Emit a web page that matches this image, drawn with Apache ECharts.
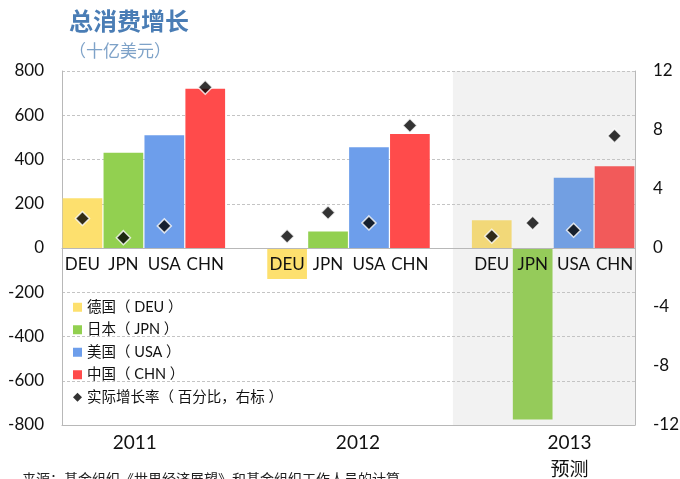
<!DOCTYPE html>
<html>
<head>
<meta charset="utf-8">
<script src="https://cdn.jsdelivr.net/npm/echarts@6/dist/echarts.min.js"></script>
<style>
html,body{margin:0;padding:0;background:#fff;}
#c{width:680px;height:479px;}
</style>
</head>
<body>
<div id="c"></div>
<script>
// ---- data ----
var years = ['2011', '2012', '2013'];
var countries = ['DEU', 'JPN', 'USA', 'CHN'];
var seriesNames = ['德国（ DEU ）', '日本（ JPN ）', '美国（ USA ）', '中国（ CHN ）'];
var growthName = '实际增长率（ 百分比，右标 ）';
// total consumption growth, billions USD, per year
var deuValues = [225, -140, 125];
var jpnValues = [430, 75, -775];
var usaValues = [510, 455, 317];
var chnValues = [720, 515, 370];
// real growth rate, percent (right axis)
var deuGrowth = [2.0, 0.8, 0.8];
var jpnGrowth = [0.7, 2.4, 1.7];
var usaGrowth = [1.5, 1.7, 1.2];
var chnGrowth = [10.9, 8.3, 7.6];
var leftTicks = {min: -800, max: 800, interval: 200};
var rightTicks = {min: -12, max: 12, interval: 4};
var yearLabels = ['2011', '2012', '2013\n预测'];
var source = '来源：基金组织《世界经济展望》和基金组织工作人员的计算。';

// ---- layout / styles ----
var W = 680, H = 479;
var gridBox = {left: 62, right: 45, top: 71, bottom: 54};
var yearLabelSlots = [1.78, 7.23, 12.4];
var forecastStartSlot = 9.55;
var colors = ['#fde06e', '#92d050', '#6d9eeb', '#ff4b4b'];
var forecastColors = ['#f2d878', '#95cb5a', '#729fe2', '#f25a5a'];
var font = 'Lato, "Noto Sans CJK SC", sans-serif';
var cjk = '"Noto Sans CJK SC", sans-serif';

var values = [deuValues, jpnValues, usaValues, chnValues];
var growth = [deuGrowth, jpnGrowth, usaGrowth, chnGrowth];

// build slot categories: 4 countries per year, blank slot between years
var cats = [];
var slotIndex = [];
years.forEach(function (y, yi) {
  slotIndex.push([]);
  countries.forEach(function (c, ci) {
    slotIndex[yi].push(cats.length);
    cats.push(c);
  });
  if (yi < years.length - 1) cats.push('');
});

var series = [];
countries.forEach(function (c, ci) {
  var d = cats.map(function () { return null; });
  years.forEach(function (y, yi) {
    var item = {value: values[ci][yi]};
    if (yi === 2) item.itemStyle = {color: forecastColors[ci]};
    d[slotIndex[yi][ci]] = item;
  });
  series.push({
    name: seriesNames[ci],
    type: 'bar',
    xAxisIndex: 0,
    yAxisIndex: 0,
    barGap: '-100%',
    barCategoryGap: '3%',
    itemStyle: {color: colors[ci]},
    data: d,
    z: 2
  });
});

var gData = cats.map(function () { return null; });
countries.forEach(function (c, ci) {
  years.forEach(function (y, yi) {
    gData[slotIndex[yi][ci]] = growth[ci][yi];
  });
});
series.push({
  name: growthName,
  type: 'scatter',
  xAxisIndex: 0,
  yAxisIndex: 1,
  symbol: 'diamond',
  symbolSize: 14,
  itemStyle: {color: '#000', borderColor: '#fff', borderWidth: 1.5},
  data: gData,
  z: 5
});
// forecast shading
series.push({
  type: 'scatter',
  xAxisIndex: 1,
  yAxisIndex: 0,
  data: [],
  z: -2,
  silent: true,
  markArea: {
    silent: true,
    z: -2,
    itemStyle: {color: '#f2f2f2'},
    data: [[{xAxis: forecastStartSlot}, {xAxis: cats.length}]]
  }
});

// place the category axis on the zero line of the left axis
var gridHeight = H - gridBox.top - gridBox.bottom;
var zeroOffset = -gridHeight * (0 - leftTicks.min) / (leftTicks.max - leftTicks.min);

var chart = echarts.init(document.getElementById('c'));
chart.setOption({
  animation: false,
  backgroundColor: '#fff',
  textStyle: {fontFamily: font},
  title: {
    text: '总消费增长',
    subtext: '（十亿美元）',
    left: 64,
    top: 4,
    itemGap: 9,
    textStyle: {fontFamily: cjk, fontSize: 24, fontWeight: 'bold', color: '#4a7db5'},
    subtextStyle: {fontFamily: cjk, fontSize: 17, color: '#7ea2c8'}
  },
  legend: {
    orient: 'vertical',
    left: 68,
    top: 295,
    itemWidth: 9,
    itemHeight: 9,
    itemGap: 8,
    textStyle: {fontFamily: font, fontSize: 14.5, color: '#111', lineHeight: 14},
    data: seriesNames.map(function (n) { return {name: n, icon: 'rect'}; })
      .concat([{name: growthName, icon: 'diamond', itemStyle: {borderWidth: 0}}])
  },
  grid: {left: gridBox.left, right: gridBox.right, top: gridBox.top, bottom: gridBox.bottom,
         containLabel: false, outerBoundsMode: 'none'},
  xAxis: [{
    type: 'category',
    data: cats,
    position: 'bottom',
    offset: zeroOffset,
    z: 10,
    axisLine: {onZero: false, lineStyle: {color: '#b8b8b8'}},
    axisTick: {show: false},
    axisLabel: {interval: 0, fontSize: 17, color: '#111', margin: 8, fontFamily: font},
    splitLine: {show: false}
  }, {
    type: 'value',
    min: 0,
    max: cats.length,
    position: 'bottom',
    axisLine: {show: true, onZero: false, lineStyle: {color: '#b8b8b8'}},
    axisTick: {show: false},
    splitLine: {show: false},
    axisLabel: {
      customValues: yearLabelSlots,
      showMinLabel: true,
      showMaxLabel: true,
      fontSize: 19,
      lineHeight: 27,
      color: '#111',
      margin: 4,
      fontFamily: font,
      formatter: function (v) {
        for (var i = 0; i < yearLabelSlots.length; i++) {
          if (Math.abs(v - yearLabelSlots[i]) < 1e-6) return yearLabels[i];
        }
        return '';
      }
    }
  }],
  yAxis: [{
    type: 'value',
    min: leftTicks.min,
    max: leftTicks.max,
    interval: leftTicks.interval,
    axisLine: {show: true, lineStyle: {color: '#b8b8b8'}},
    axisTick: {show: false},
    axisLabel: {fontSize: 17, color: '#111', margin: 18, fontFamily: font},
    splitLine: {show: true, lineStyle: {color: '#c4c4c4', type: [3, 2], width: 1}}
  }, {
    type: 'value',
    min: rightTicks.min,
    max: rightTicks.max,
    interval: rightTicks.interval,
    position: 'right',
    axisLine: {show: true, lineStyle: {color: '#b8b8b8'}},
    axisTick: {show: false},
    axisLabel: {fontSize: 17, color: '#111', margin: 18, fontFamily: font},
    splitLine: {show: false}
  }],
  graphic: [{
    type: 'text',
    left: 22,
    top: 472,
    style: {text: source, fontSize: 14, fill: '#222', fontFamily: cjk}
  }],
  series: series
});
</script>
</body>
</html>
